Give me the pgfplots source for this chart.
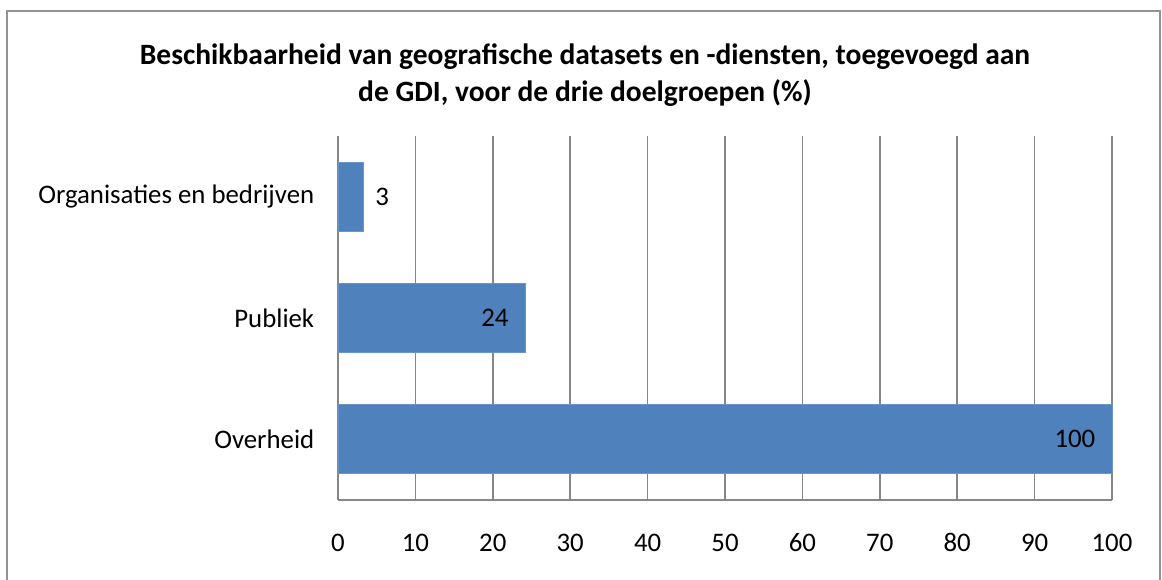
\documentclass[border=0pt]{standalone}
\usepackage{pgfplots}
\pgfplotsset{compat=1.18}
\usepackage{fontspec}
\setmainfont{Carlito}
\definecolor{barblue}{HTML}{4F81BD}
\definecolor{gridgray}{HTML}{868686}
\begin{document}
\begin{tikzpicture}
\useasboundingbox (0pt,0pt) rectangle (1162pt,580pt);
\draw[gridgray!90, line width=1.5pt] (7pt,-20pt) rectangle (1160pt,569pt);
\node[align=center, font=\fontsize{29.5}{37}\selectfont\bfseries] at (585pt,505pt)
  {Beschikbaarheid van geografische datasets en -diensten, toegevoegd aan\\de GDI, voor de drie doelgroepen (\%)};
\begin{axis}[
  at={(338pt,80pt)}, anchor=south west,
  scale only axis, width=774pt, height=364pt,
  xmin=0, xmax=100, ymin=-0.5, ymax=2.5,
  xtick={0,10,...,100},
  ytick={0,1,2},
  yticklabels={Overheid,Publiek,Organisaties en bedrijven},
  xmajorgrids, major grid style={gridgray, line width=1.5pt},
  axis line style={gridgray, line width=1.5pt},
  axis x line*=bottom, axis y line*=left,
  x axis line style={-}, y axis line style={-},
  tick style={draw=none},
  ticklabel style={font=\fontsize{26.8}{30}\selectfont},
  /pgf/number format/assume math mode=true,
  xticklabel style={anchor=north, text height=18pt, text depth=0pt, yshift=-30pt},
  yticklabel style={xshift=-16pt},
  xbar, bar shift=0pt, bar width=69pt,
  clip=false,
]
\addplot[fill=barblue, draw=barblue!85!white, line width=0.8pt,
  nodes near coords, nodes near coords style={anchor=east, xshift=-13pt, font=\fontsize{26.8}{30}\selectfont, text=black},
  point meta=explicit symbolic]
  coordinates {(100,0) [100] (24.2,1) [24]};
\addplot[fill=barblue, draw=barblue!85!white, line width=0.8pt,
  nodes near coords, nodes near coords style={anchor=west, xshift=8pt, font=\fontsize{26.8}{30}\selectfont, text=black},
  point meta=explicit symbolic]
  coordinates {(3.3,2) [3]};
\end{axis}
\end{tikzpicture}
\end{document}
